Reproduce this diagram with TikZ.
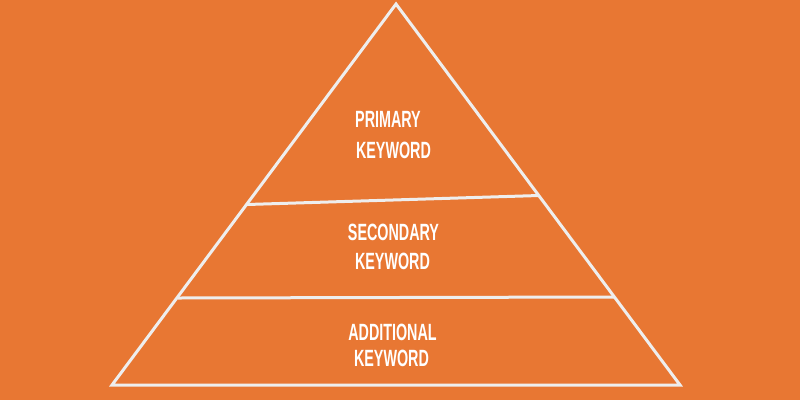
\documentclass[tikz,border=0pt]{standalone}
\usepackage{fontspec}
\setmainfont{Liberation Sans}
\definecolor{bgorange}{HTML}{E87733}
\definecolor{linegrey}{HTML}{EEEEEE}
\begin{document}
\begin{tikzpicture}[x=1pt,y=-1pt,
  edge/.style={draw=linegrey,line width=3pt,line join=miter},
  lbl/.style={text=white,font=\fontsize{23.5}{23.5}\selectfont\bfseries,xscale=0.61,inner sep=0pt,anchor=base}]
\fill[bgorange] (0,0) rectangle (800,400);
\useasboundingbox (0,0) rectangle (800,400);
\coordinate (apex) at (396,4);
\coordinate (bl) at (112,385);
\coordinate (br) at (680,385);
\coordinate (d1l) at (247,204.5);
\coordinate (d1r) at (539,195.5);
\coordinate (d2l) at (178,298);
\coordinate (d2r) at (614,297);
\draw[edge] (apex) -- (br) -- (bl) -- cycle;
\draw[edge] (d1l) -- (d1r);
\draw[edge] (d2l) -- (d2r);
\node[lbl] (p1) at (388,127.5) {PRIMARY};
\node[lbl] (p2) at (393.5,158) {KEYWORD};
\node[lbl] (s1) at (393.5,240) {SECONDARY};
\node[lbl] (s2) at (392.5,269.5) {KEYWORD};
\node[lbl] (a1) at (392.5,340.5) {ADDITIONAL};
\node[lbl] (a2) at (391.5,366.5) {KEYWORD};
\end{tikzpicture}
\end{document}
